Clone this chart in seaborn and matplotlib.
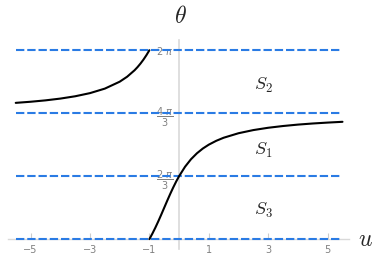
import numpy as np
import pandas as pd
import matplotlib
matplotlib.use("Agg")
import matplotlib.pyplot as plt
import seaborn as sns

# values
u_right = [-1.0, -0.9, -0.8, -0.7, -0.6, -0.5, -0.4, -0.3, -0.2, -0.1, 0.0,
           0.2, 0.4, 0.6, 0.8, 1.0, 1.25, 1.5, 2.0, 2.5, 3.0, 3.5, 4.0, 4.5, 5.0, 5.5]
theta_right = [0.0, 0.182, 0.380, 0.593, 0.817, 1.047, 1.277, 1.501, 1.714, 1.913, 2.094,
               2.407, 2.657, 2.855, 3.014, 3.142, 3.270, 3.372, 3.522, 3.627, 3.704,
               3.762, 3.809, 3.846, 3.876, 3.902]
u_left = [-5.5, -5.0, -4.5, -4.0, -3.5, -3.0, -2.5, -2.0, -1.75, -1.5, -1.4, -1.3, -1.2, -1.1, -1.0]
theta_left = [4.532, 4.569, 4.615, 4.674, 4.751, 4.856, 5.006, 5.236, 5.401, 5.616,
              5.721, 5.839, 5.971, 6.119, 6.283]

levels = [0, 2 * np.pi / 3, 4 * np.pi / 3, 2 * np.pi]
level_labels = ["", r"$\dfrac{2\ \pi}{3}$", r"$\dfrac{4\ \pi}{3}$", r"$2\ \pi$"]
x_ticks = [-5, -3, -1, 1, 3, 5]
regions = ["$S_2$", "$S_1$", "$S_3$"]
region_theta = [5.12, 2.96, 0.96]
region_u = 2.83

sns.set_style("white")

fig = plt.figure(figsize=(3.74, 2.57), dpi=100)
ax = fig.add_axes([0.0214, 0.031, 0.9118, 0.813])

blue = "#2a7be4"
ax.hlines(levels, -5.5, 5.5, colors=blue, linestyles=(0, (4, 1.4)), linewidth=1.5, zorder=3)

right = pd.DataFrame({"u": u_right, "theta": theta_right})
left = pd.DataFrame({"u": u_left, "theta": theta_left})
sns.lineplot(data=right, x="u", y="theta", color="black", linewidth=1.5, sort=False, ax=ax, zorder=4)
sns.lineplot(data=left, x="u", y="theta", color="black", linewidth=1.5, sort=False, ax=ax, zorder=4)

ax.set_xlim(-5.76, 5.72)
ax.set_ylim(-0.33, 6.62)

for s in ["top", "right"]:
    ax.spines[s].set_visible(False)
ax.spines["left"].set_position(("data", 0))
ax.spines["bottom"].set_position(("data", 0))
ax.spines["left"].set_color("#d9d9d9")
ax.spines["bottom"].set_color("#d9d9d9")
ax.spines["left"].set_linewidth(1.2)
ax.spines["bottom"].set_linewidth(1.0)

ax.set_xticks(x_ticks)
ax.set_xticklabels([f"\u2212{abs(t)}" if t < 0 else str(t) for t in x_ticks])
ax.tick_params(axis="x", direction="in", length=4, color="#cccccc", labelsize=7,
               labelcolor="#808080", pad=4, bottom=True)
ax.set_yticks(levels[1:])
ax.set_yticklabels(level_labels[1:])
ax.tick_params(axis="y", length=0, labelsize=7, labelcolor="#808080", pad=4, left=True)
ax.set_xlabel("")
ax.set_ylabel("")

for name, th in zip(regions, region_theta):
    ax.text(region_u, th, name, fontsize=13, ha="center", va="center", math_fontfamily="cm")

fig.text(180 / 374, 1 - 16 / 257, r"$\theta$", fontsize=17, ha="center", va="center", math_fontfamily="cm")
fig.text(365 / 374, 1 - 239 / 257, r"$u$", fontsize=17, ha="center", va="center", math_fontfamily="cm")

fig.savefig("out.png", dpi=100)
